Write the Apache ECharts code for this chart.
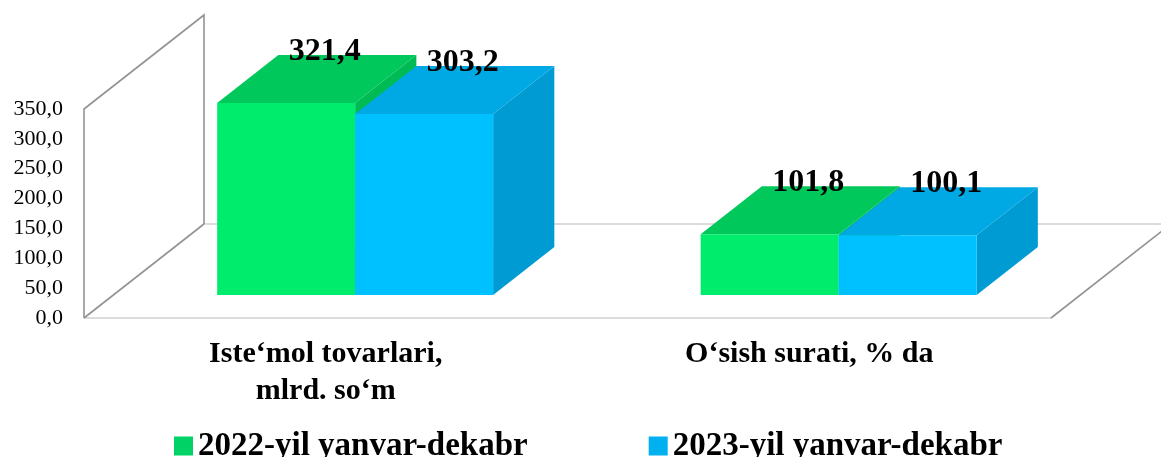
<!DOCTYPE html>
<html>
<head>
<meta charset="utf-8">
<script src="https://cdn.jsdelivr.net/npm/echarts@6/dist/echarts.min.js"></script>
<style>html,body{margin:0;padding:0;background:#fff}#c{width:1161px;height:457px}</style>
</head>
<body>
<div id="c"></div>
<script>
const categories = ["Iste‘mol tovarlari,\nmlrd. so‘m", "O‘sish surati, % da"];
const seriesNames = ["2022-yil yanvar-dekabr", "2023-yil yanvar-dekabr"];
const values2022 = [321.4, 101.8];
const values2023 = [303.2, 100.1];
const yTicks = { min: 0, max: 350, interval: 50 };

const DEPTH = [120, -94];      // full floor depth vector (px)
const F1 = 0.245, F2 = 0.755;  // bar front/back depth fractions
const BAR_FRAC = 0.2854;       // bar width as fraction of category width
const SERIF = '"Liberation Serif", "Times New Roman", serif';

const palettes = [
  { legend: '#00D265', front: '#00EC6D', top: '#00C85B', side: '#00BA54' },
  { legend: '#00B0F0', front: '#00C1FF', top: '#00A8E4', side: '#009BD2' }
];

const fmt = v => v.toFixed(1).replace('.', ',');

function barRenderer(sIdx) {
  const pal = palettes[sIdx];
  return function (params, api) {
    const ci = api.value(0), v = api.value(1);
    const top = api.coord([ci, v]);
    const base = api.coord([ci, 0]);
    const catW = api.size([1, 0])[0];
    const bw = catW * BAR_FRAC;
    const x0 = top[0] + (sIdx === 0 ? -bw : 0);
    const x1 = x0 + bw;
    const d1x = DEPTH[0] * F1, d1y = DEPTH[1] * F1;
    const d2x = DEPTH[0] * F2, d2y = DEPTH[1] * F2;
    const yt = top[1], yb = base[1];
    return {
      type: 'group',
      children: [
        { type: 'polygon', shape: { points: [[x1 + d1x, yt + d1y], [x1 + d2x, yt + d2y], [x1 + d2x, yb + d2y], [x1 + d1x, yb + d1y]] }, style: { fill: pal.side } },
        { type: 'polygon', shape: { points: [[x0 + d1x, yt + d1y], [x1 + d1x, yt + d1y], [x1 + d2x, yt + d2y], [x0 + d2x, yt + d2y]] }, style: { fill: pal.top } },
        { type: 'rect', shape: { x: x0 + d1x, y: yt + d1y, width: bw, height: yb - yt }, style: { fill: pal.front } },
        { type: 'text', z2: 100, style: { text: fmt(v), x: x0 + bw / 2 + (d1x + d2x) / 2 + 8, y: yt + (d1y + d2y) / 2 - 27, align: 'center', verticalAlign: 'middle', font: 'bold 32px ' + SERIF, fill: '#000' } }
      ]
    };
  };
}

function frameRenderer(params, api) {
  const cs = params.coordSys;
  const L = cs.x, R = cs.x + cs.width, T = cs.y, B = cs.y + cs.height;
  const dx = DEPTH[0], dy = DEPTH[1];
  const dark = { stroke: '#939393', lineWidth: 1.6, fill: null };
  const light = { stroke: '#d0d0d0', lineWidth: 1.6, fill: null };
  return {
    type: 'group',
    children: [
      { type: 'line', shape: { x1: L, y1: B, x2: R, y2: B }, style: light },
      { type: 'line', shape: { x1: L + dx, y1: B + dy, x2: R + dx, y2: B + dy }, style: light },
      { type: 'line', shape: { x1: L, y1: B, x2: L + dx, y2: B + dy }, style: dark },
      { type: 'line', shape: { x1: R, y1: B, x2: R + dx, y2: B + dy }, style: dark },
      { type: 'polyline', shape: { points: [[L, B], [L, T], [L + dx, T + dy], [L + dx, B + dy]] }, style: dark }
    ]
  };
}

const chart = echarts.init(document.getElementById('c'));
chart.setOption({
  animation: false,
  backgroundColor: '#fff',
  grid: { left: 84, right: 110, top: 109, bottom: 139 },
  xAxis: {
    type: 'category',
    data: categories,
    axisLine: { show: false },
    axisTick: { show: false },
    axisLabel: { margin: 18, fontFamily: SERIF, fontWeight: 'bold', fontSize: 30, lineHeight: 37, color: '#000' }
  },
  yAxis: {
    type: 'value',
    min: yTicks.min, max: yTicks.max, interval: yTicks.interval,
    axisLine: { show: false },
    axisTick: { show: false },
    splitLine: { show: false },
    axisLabel: { margin: 21, fontFamily: SERIF, fontSize: 22, color: '#000', formatter: v => fmt(v), padding: [4, 0, 0, 0] }
  },
  legend: {
    data: seriesNames,
    left: 169, top: 424,
    icon: 'rect', itemWidth: 19, itemHeight: 19, itemGap: 121,
    textStyle: { fontFamily: SERIF, fontWeight: 'bold', fontSize: 33, lineHeight: 34, color: '#000' }
  },
  series: [
    { type: 'custom', name: 'frame', silent: true, z: 1, renderItem: frameRenderer, data: [[0, 0]], clip: false },
    { type: 'custom', name: seriesNames[0], z: 2, renderItem: barRenderer(0), itemStyle: { color: palettes[0].legend }, data: values2022.map((v, i) => [i, v]), encode: { x: 0, y: 1 }, clip: false },
    { type: 'custom', name: seriesNames[1], z: 2, renderItem: barRenderer(1), itemStyle: { color: palettes[1].legend }, data: values2023.map((v, i) => [i, v]), encode: { x: 0, y: 1 }, clip: false }
  ]
});
</script>
</body>
</html>
